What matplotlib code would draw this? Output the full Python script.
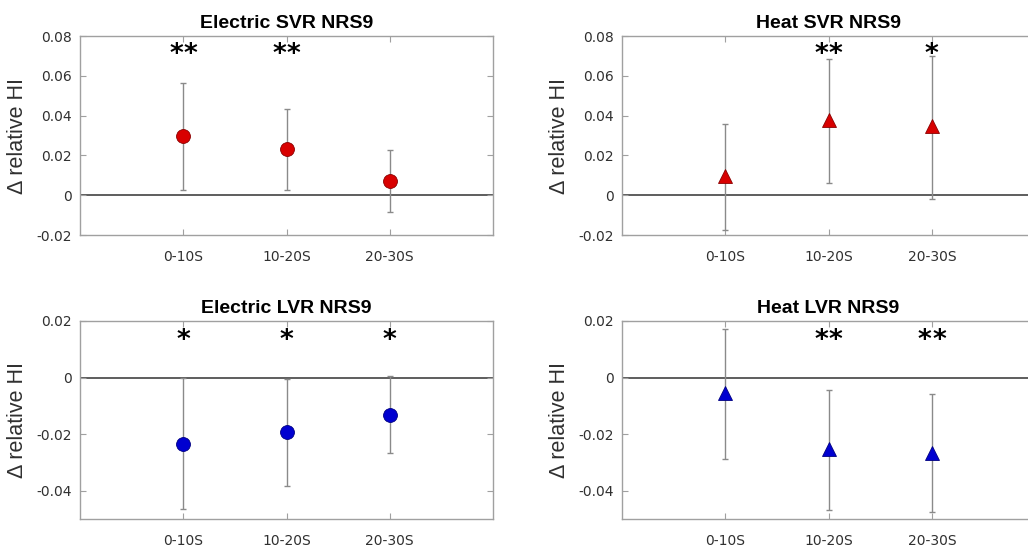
import numpy as np
import matplotlib.pyplot as plt

# categories and data
cats = ["0-10S", "10-20S", "20-30S"]

titles = ["Electric SVR NRS9", "Heat SVR NRS9", "Electric LVR NRS9", "Heat LVR NRS9"]

esvr_mean = [0.0296, 0.0234, 0.0072]
esvr_lo   = [0.0028, 0.0028, -0.0085]
esvr_hi   = [0.0564, 0.0435, 0.0226]
esvr_sig  = ["**", "**", ""]

hsvr_mean = [0.0097, 0.0380, 0.0346]
hsvr_lo   = [-0.0176, 0.0060, -0.0020]
hsvr_hi   = [0.0360, 0.0686, 0.0701]
hsvr_sig  = ["", "**", "*"]

elvr_mean = [-0.0234, -0.0193, -0.0131]
elvr_lo   = [-0.0464, -0.0382, -0.0268]
elvr_hi   = [0.0000, -0.0006, 0.0004]
elvr_sig  = ["*", "*", "*"]

hlvr_mean = [-0.0056, -0.0254, -0.0265]
hlvr_lo   = [-0.0289, -0.0468, -0.0477]
hlvr_hi   = [0.0172, -0.0044, -0.0058]
hlvr_sig  = ["", "**", "**"]

svr_star_y = 0.0740
lvr_star_y = 0.0152

svr_ticks = [-0.02, 0, 0.02, 0.04, 0.06, 0.08]
lvr_ticks = [-0.04, -0.02, 0, 0.02]

red = "#d80000"
blue = "#0000d0"
grey = "#a0a0a0"

fig = plt.figure(figsize=(10.28, 5.5), dpi=100)

panels = [
    ([0.0778, 0.5727, 0.4018, 0.3618], esvr_mean, esvr_lo, esvr_hi, esvr_sig, "o", red, (-0.02, 0.08), svr_ticks, svr_star_y),
    ([0.6051, 0.5727, 0.4018, 0.3618], hsvr_mean, hsvr_lo, hsvr_hi, hsvr_sig, "^", red, (-0.02, 0.08), svr_ticks, svr_star_y),
    ([0.0778, 0.0564, 0.4018, 0.3600], elvr_mean, elvr_lo, elvr_hi, elvr_sig, "o", blue, (-0.05, 0.02), lvr_ticks, lvr_star_y),
    ([0.6051, 0.0564, 0.4018, 0.3600], hlvr_mean, hlvr_lo, hlvr_hi, hlvr_sig, "^", blue, (-0.05, 0.02), lvr_ticks, lvr_star_y),
]

x = np.arange(1, len(cats) + 1)

for (pos, mean, lo, hi, sig, mk, col, ylim, yt, sy), title in zip(panels, titles):
    ax = fig.add_axes(pos)
    mean = np.array(mean)
    yerr = [mean - np.array(lo), np.array(hi) - mean]
    ax.axhline(0, color="#505050", lw=1.3, zorder=1)
    ax.errorbar(x, mean, yerr=yerr, fmt="none", ecolor="#8a8a8a", elinewidth=1,
                capsize=2, capthick=1, zorder=2)
    ax.plot(x, mean, mk, color=col, markersize=10,
            markeredgecolor="#8a0000" if col == red else "#000080", markeredgewidth=0.6,
            zorder=3)
    # significance stars, drawn one by one with a small gap
    for xi, s in zip(x, sig):
        n = len(s)
        for k in range(n):
            dx = (k - (n - 1) / 2) * 10.5
            ax.annotate("*", (xi, sy), xytext=(dx, -10), textcoords="offset points",
                        ha="center", va="baseline", fontsize=19, fontweight="bold",
                        color="black")
    ax.set_xlim(0, 4)
    ax.set_ylim(*ylim)
    ax.set_yticks(yt)
    ax.set_yticklabels(["0" if v == 0 else f"{v:.2f}" for v in yt])
    ax.set_xticks(x)
    ax.set_xticklabels(cats)
    for sp in ax.spines.values():
        sp.set_color(grey)
        sp.set_linewidth(1)
    ax.tick_params(axis="both", direction="in", length=4, color=grey,
                   top=True, right=True, labelsize=10, labelcolor="#303030")
    ax.tick_params(axis="x", pad=11)
    ax.tick_params(axis="y", pad=6)
    ax.set_title(title, fontsize=14, fontweight="bold", family="Liberation Sans", pad=6)
    ax.set_ylabel("\u0394 relative HI", fontsize=15.5, family="Liberation Sans",
                  color="#303030", labelpad=6)

fig.savefig("out.png", dpi=100)
